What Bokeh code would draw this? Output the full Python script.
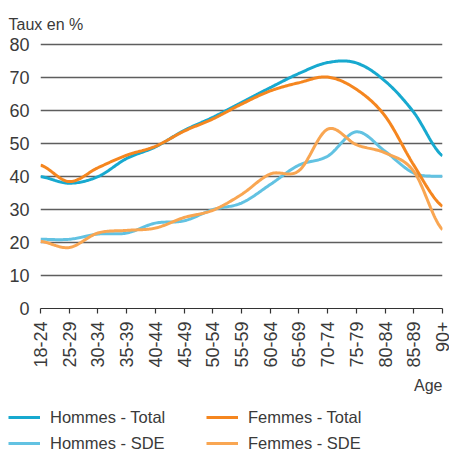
import numpy as np
from bokeh.plotting import figure
from bokeh.models import (Range1d, FixedTicker, Legend, LegendItem, Title)
from bokeh.embed import file_html
from bokeh.resources import INLINE

categories = ["18-24", "25-29", "30-34", "35-39", "40-44", "45-49", "50-54",
              "55-59", "60-64", "65-69", "70-74", "75-79", "80-84", "85-89", "90+"]
hommes_total = [40, 38, 40, 45.5, 49, 54, 58, 62.5, 67, 71.3, 74.6, 74.5, 69, 59.5, 46.3]
femmes_total = [43.5, 38.5, 42.7, 46.5, 49.2, 53.8, 57.5, 62, 66, 68.5, 70.2, 66.5, 58.4, 43.5, 31]
hommes_sde = [21, 21, 22.6, 22.9, 25.9, 26.6, 30, 32, 37.6, 43.5, 46.2, 53.6, 47.7, 41.1, 40.1]
femmes_sde = [20.4, 18.5, 22.9, 23.7, 24.4, 27.6, 29.8, 34.6, 40.8, 41.8, 54.4, 49.7, 47.2, 41.6, 23.9]
y_ticks = [0, 10, 20, 30, 40, 50, 60, 70, 80]

FONT = "Liberation Sans Narrow, Arial Narrow, Liberation Sans, sans-serif"
TXT = "#3a3a3a"


def smooth(vals, n=24):
    """Catmull-Rom rendering of the series between its category points."""
    v = np.asarray(vals, dtype=float)
    p = np.concatenate([[v[0]], v, [v[-1]]])
    xs, ys = [], []
    for i in range(len(v) - 1):
        p0, p1, p2, p3 = p[i], p[i + 1], p[i + 2], p[i + 3]
        t = np.linspace(0, 1, n, endpoint=False)
        y = 0.5 * ((2 * p1) + (-p0 + p2) * t + (2 * p0 - 5 * p1 + 4 * p2 - p3) * t ** 2
                   + (-p0 + 3 * p1 - 3 * p2 + p3) * t ** 3)
        xs.extend(i + t)
        ys.extend(y)
    xs.append(len(v) - 1)
    ys.append(v[-1])
    return xs, ys


p = figure(width=449, height=400, output_backend="svg", toolbar_location=None,
           x_range=Range1d(0, 14), y_range=Range1d(0, 81),
           min_border_left=40, min_border_right=7, min_border_top=41,
           min_border_bottom=92)
p.outline_line_color = None
p.background_fill_color = "white"

p.title = Title(text="Taux en %", align="left", offset=-32,
                text_font=FONT, text_font_size="16px", text_font_style="normal",
                text_color=TXT, standoff=17)

# grid
p.xgrid.grid_line_color = None
p.ygrid.grid_line_color = "#5e5e5e"
p.ygrid.grid_line_width = 1.3
p.ygrid.ticker = FixedTicker(ticks=y_ticks[1:])

# y axis
p.yaxis.ticker = FixedTicker(ticks=y_ticks)
p.yaxis.axis_line_color = None
p.yaxis.major_tick_line_color = None
p.yaxis.minor_tick_line_color = None
p.yaxis.major_tick_out = 0
p.yaxis.major_tick_in = 0
p.yaxis.major_label_standoff = 11
p.yaxis.major_label_text_font = FONT
p.yaxis.major_label_text_font_size = "18px"
p.yaxis.major_label_text_color = TXT

# x axis
p.xaxis.ticker = FixedTicker(ticks=list(range(len(categories))))
p.xaxis.major_label_overrides = {i: c for i, c in enumerate(categories)}
p.xaxis.major_label_orientation = np.pi / 2
p.xaxis.axis_line_color = "#333333"
p.xaxis.axis_line_width = 1.2
p.xaxis.major_tick_line_color = "#333333"
p.xaxis.major_tick_line_width = 1.2
p.xaxis.major_tick_out = 5
p.xaxis.major_tick_in = 0
p.xaxis.minor_tick_line_color = None
p.xaxis.major_label_standoff = 8
p.xaxis.major_label_text_font = FONT
p.xaxis.major_label_text_font_size = "18px"
p.xaxis.major_label_text_color = TXT

p.add_layout(Title(text="Age", align="right", text_font=FONT, text_font_size="16px",
                   text_font_style="normal", text_color=TXT, standoff=8), "below")

series = [
    ("Hommes - Total", hommes_total, "#17a9cf"),
    ("Femmes - Total", femmes_total, "#f5861f"),
    ("Hommes - SDE", hommes_sde, "#62c2e2"),
    ("Femmes - SDE", femmes_sde, "#f9a652"),
]
for name, vals, col in [series[2], series[3], series[0], series[1]]:
    xs, ys = smooth(vals)
    p.line(xs, ys, line_color=col, line_width=3)

# legend strip below the chart (separate root, so no frame alignment)
lg = figure(width=449, height=50, output_backend="svg", toolbar_location=None,
            x_axis_location=None, y_axis_location=None,
            x_range=Range1d(0, 1), y_range=Range1d(0, 1), min_border=0)
lg.outline_line_color = None
lg.grid.grid_line_color = None
items = []
for name, vals, col in series:
    r = lg.line([np.nan], [np.nan], line_color=col, line_width=3)
    items.append(LegendItem(label=name, renderers=[r]))
legend = Legend(items=items, orientation="horizontal", ncols=2,
                location=(8, -3),
                border_line_color=None, background_fill_alpha=0,
                margin=0, padding=0, spacing=6,
                glyph_width=32, glyph_height=20, label_height=20, label_width=150,
                label_standoff=10,
                label_text_font=FONT, label_text_font_size="16.5px",
                label_text_color=TXT)
lg.add_layout(legend, "center")

open("out.html", "w").write(file_html([p, lg], INLINE))
